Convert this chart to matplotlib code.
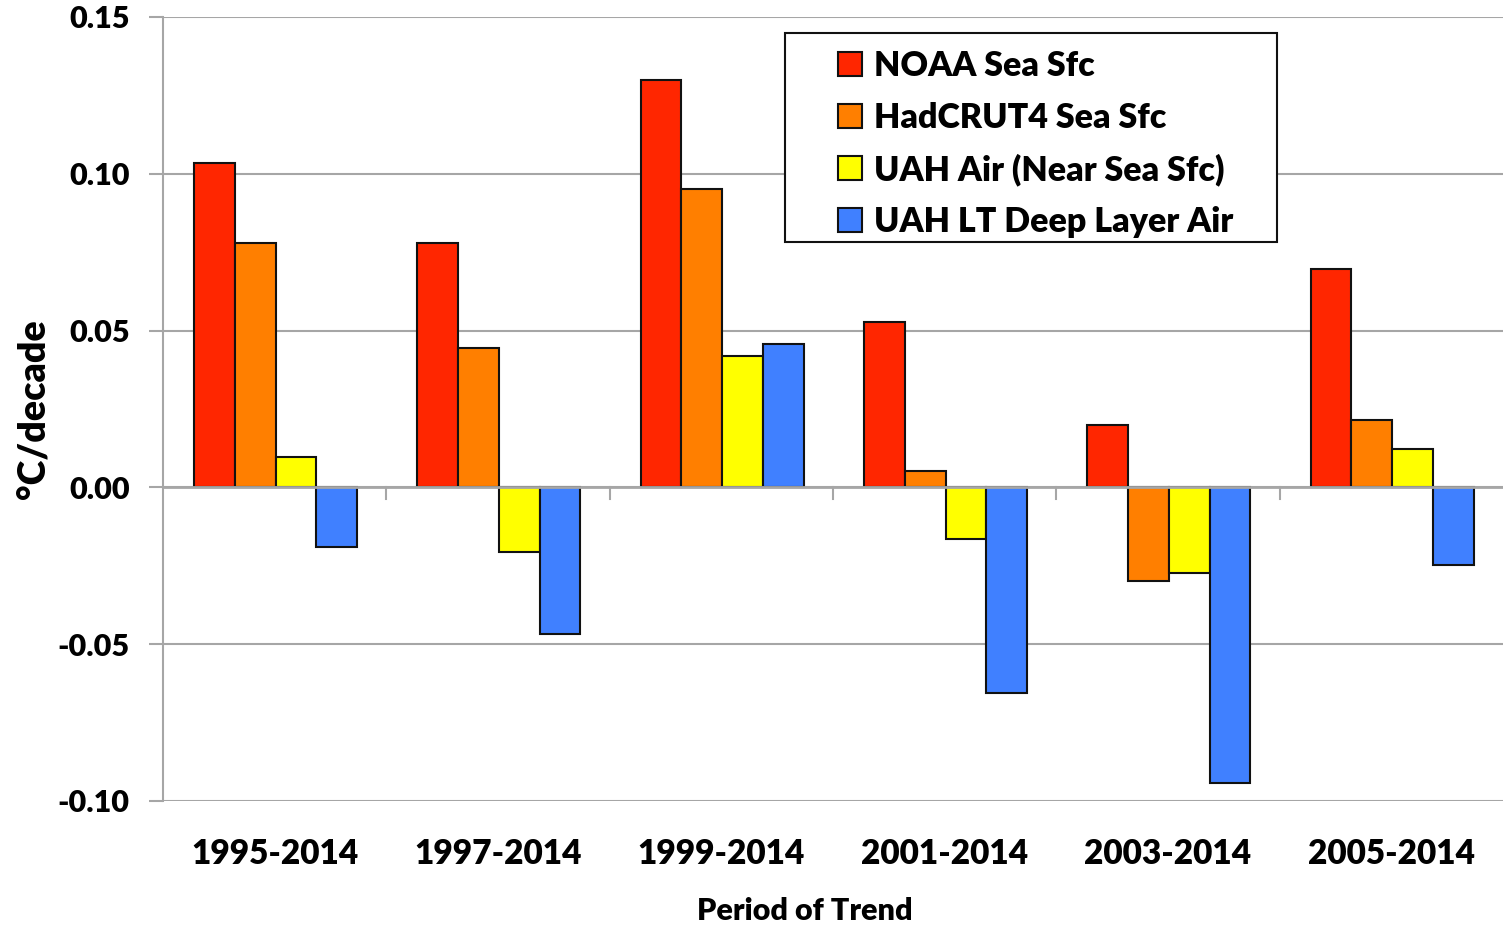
import matplotlib
matplotlib.use("Agg")
import matplotlib.pyplot as plt
from matplotlib.patches import Rectangle
import numpy as np

periods = ["1995-2014", "1997-2014", "1999-2014", "2001-2014", "2003-2014", "2005-2014"]
noaa_sea = [0.1035, 0.078, 0.1298, 0.0529, 0.0198, 0.0698]
hadcrut4_sea = [0.078, 0.0446, 0.0953, 0.0051, -0.030, 0.0214]
uah_air_near = [0.0096, -0.0207, 0.042, -0.0166, -0.0274, 0.0124]
uah_lt_deep = [-0.019, -0.0469, 0.0456, -0.0657, -0.0944, -0.0249]

series_names = ["NOAA Sea Sfc", "HadCRUT4 Sea Sfc", "UAH Air (Near Sea Sfc)", "UAH LT Deep Layer Air"]
colors = ["#FF2600", "#FF7F00", "#FFFF00", "#4080FF"]
series = [noaa_sea, hadcrut4_sea, uah_air_near, uah_lt_deep]

plt.rcParams['font.family'] = ['Lato', 'DejaVu Sans']
W = 'heavy'

fig = plt.figure(figsize=(15.03, 9.26), dpi=100)
ax = fig.add_axes([163/1503, 1-801/926, 1-163/1503, (801-17)/926])

x = np.arange(len(periods))
w = 0.1825
for i, (vals, name, c) in enumerate(zip(series, series_names, colors)):
    ax.bar(x + (i - 1.5) * w + 0.004, vals, w, color=c, edgecolor="#111111", linewidth=1.5,
           label=name, zorder=3)

ax.set_xlim(-0.5, len(periods) - 0.5)
ax.set_ylim(-0.10, 0.15)
ax.set_yticks([-0.10, -0.05, 0.0, 0.05, 0.10, 0.15])
ax.set_yticklabels(["-0.10", "-0.05", "0.00", "0.05", "0.10", "0.15"], fontsize=22, fontweight=W)
ax.yaxis.grid(True, color="#A6A6A6", linewidth=1.5, zorder=0)
ax.tick_params(axis='y', length=10, width=1.5, color="#A6A6A6", pad=14)

ax.set_xticks(x)
ax.set_xticklabels(periods, fontsize=24, fontweight=W)
ax.tick_params(axis='x', length=0, pad=27)
ax.axhline(0, color="#A6A6A6", linewidth=2, zorder=4)
for b in np.arange(0.5, len(periods) - 0.5, 1.0):
    ax.plot([b, b], [0, -0.0037], color="#A6A6A6", linewidth=1.5, zorder=4, clip_on=False)

for s in ["top", "right", "bottom"]:
    ax.spines[s].set_visible(False)
ax.spines["left"].set_color("#A6A6A6")
ax.spines["left"].set_linewidth(1.5)

ax.set_ylabel("°C/decade", fontsize=27, fontweight=W)
ax.yaxis.set_label_coords((34-163)/1340, (801-409)/784)
ax.set_xlabel("Period of Trend", fontsize=22, fontweight=W)
ax.xaxis.set_label_coords((805-163)/1340, (801-911)/784)
ax.xaxis.label.set_va('center')
ax.yaxis.label.set_va('center')

# legend box drawn as a fixed rectangle, entries placed inside
bx0, bx1 = (785-163)/1340, (1277-163)/1340
by0, by1 = (801-242)/784, (801-33)/784
ax.add_patch(Rectangle((bx0, by0), bx1-bx0, by1-by0, transform=ax.transAxes,
                       facecolor="white", edgecolor="#111111", linewidth=1.5, zorder=5))
leg = ax.legend(loc='upper left', bbox_to_anchor=((838-163)/1340, (801-50)/784),
                prop={'size': 24.5, 'weight': W}, frameon=False,
                handlelength=0.7, handleheight=0.7, handletextpad=0.35,
                labelspacing=0.58, borderpad=0, borderaxespad=0)
leg.set_zorder(6)

fig.savefig("out.png", dpi=100, facecolor="white")
